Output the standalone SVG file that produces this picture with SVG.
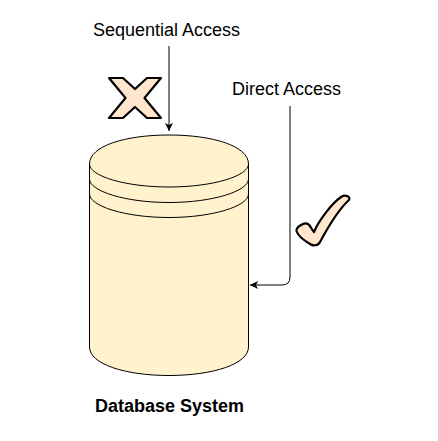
<svg xmlns="http://www.w3.org/2000/svg" width="438" height="441" viewBox="0 0 438 441">
<defs>
<marker id="arrow" markerUnits="userSpaceOnUse" markerWidth="10" markerHeight="10" refX="8" refY="4" orient="auto"><path d="M0 0L8 4L0 8L2 4Z" fill="#000"/></marker>
</defs>
<style>
text{font-family:"Liberation Sans",Arial,sans-serif;font-size:18px;fill:#000}
.c{fill:none;stroke:#000;stroke-width:1;marker-end:url(#arrow)}
.db{fill:#fff2cc;stroke:#000;stroke-width:1}
.dbl{fill:none;stroke:#000;stroke-width:1}
.sym{fill:#ffe6cc;stroke:#000;stroke-width:2.200;stroke-linejoin:round}
</style>
<rect width="438" height="441" fill="#fff"/>
<g id="connectors">
<path class="c" d="M169 46V131"/>
<path class="c" d="M290 106V277Q290 285 282 285H250"/>
</g>
<g id="database">
<path class="db" d="M89.500 164C89.500 146 125 135 169 135C213 135 248.500 146 248.500 164V347C248.500 364 213 375.500 169 375.500C125 375.500 89.500 364 89.500 347Z"/>
<path class="dbl" d="M89.500 164C89.500 176 125 187 169 187C213 187 248.500 176 248.500 164"/>
<path class="dbl" d="M89.500 179C89.500 191 125 202.500 169 202.500C213 202.500 248.500 191 248.500 179"/>
<path class="dbl" d="M89.500 194C89.500 206 125 217.500 169 217.500C213 217.500 248.500 206 248.500 194"/>
</g>
<g id="cross"><path class="sym" d="M109 78H123L135 89L147 78H161L144.500 98L161 118H147L135 107L123 118H109L125.500 98Z"/></g>
<g id="check"><path class="sym" d="M296.500 231C296 227 304 222 308 224C311 226 312.500 231 314 232C318 222 331 204 341 197C346 194 351 197 349 200C339 209 327 229 320 242C318 246 313 246 310 244C305 241 298 236 296.500 231Z"/></g>
<g id="label-sequential"><text x="93" y="36">Sequential Access</text></g>
<g id="label-direct"><text x="232" y="95">Direct Access</text></g>
<g id="label-db"><text x="95" y="412" style="font-weight:700">Database System</text></g>
</svg>
